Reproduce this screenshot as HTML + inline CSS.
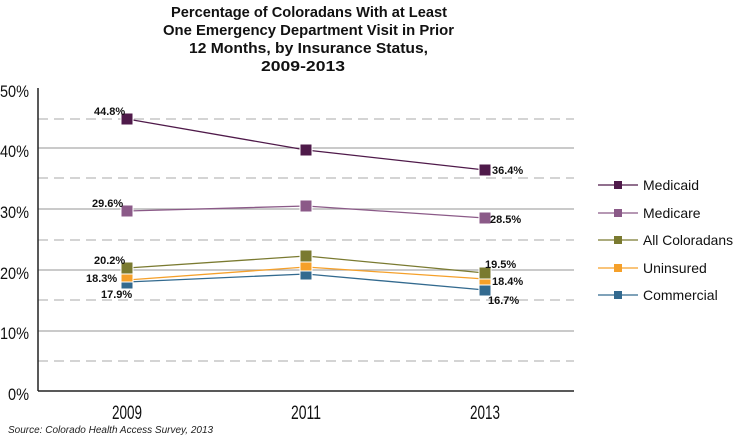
<!DOCTYPE html>
<html><head><meta charset="utf-8"><style>body{margin:0;background:#fff}svg{display:block}</style></head><body>
<svg width="734" height="438" xmlns="http://www.w3.org/2000/svg" font-family="Liberation Sans, sans-serif">
<g font-weight="bold" font-size="15" text-anchor="start" fill="#111">
<text x="171" y="17" textLength="276" lengthAdjust="spacingAndGlyphs">Percentage of Coloradans With at Least</text>
<text x="163" y="35" textLength="291" lengthAdjust="spacingAndGlyphs">One Emergency Department Visit in Prior</text>
<text x="189" y="53" textLength="239" lengthAdjust="spacingAndGlyphs">12 Months, by Insurance Status,</text>
<text x="261" y="71" textLength="84" lengthAdjust="spacingAndGlyphs">2009-2013</text>
</g>
<g stroke="#aaa" stroke-width="1.3">
<line x1="38" x2="574" y1="148" y2="148"/><line x1="38" x2="574" y1="209" y2="209"/><line x1="38" x2="574" y1="270" y2="270"/><line x1="38" x2="574" y1="331" y2="331"/>
</g>
<g stroke="#bbb" stroke-width="1.3" stroke-dasharray="10,6">
<line x1="38" x2="574" y1="119" y2="119"/><line x1="38" x2="574" y1="178" y2="178"/><line x1="38" x2="574" y1="240" y2="240"/><line x1="38" x2="574" y1="300" y2="300"/><line x1="38" x2="574" y1="361" y2="361"/>
</g>
<line x1="38" x2="38" y1="88" y2="391" stroke="#222" stroke-width="1.5"/>
<line x1="38" x2="574" y1="391" y2="391" stroke="#222" stroke-width="1.5"/>
<g font-size="17" fill="#111">
<text x="0" y="97" textLength="29" lengthAdjust="spacingAndGlyphs">50%</text><text x="0" y="157" textLength="29" lengthAdjust="spacingAndGlyphs">40%</text><text x="0" y="218" textLength="29" lengthAdjust="spacingAndGlyphs">30%</text><text x="0" y="279" textLength="29" lengthAdjust="spacingAndGlyphs">20%</text><text x="0" y="339" textLength="29" lengthAdjust="spacingAndGlyphs">10%</text><text x="8" y="400" textLength="21" lengthAdjust="spacingAndGlyphs">0%</text>
</g>
<g font-size="19" fill="#111">
<text x="112" y="419" textLength="30" lengthAdjust="spacingAndGlyphs">2009</text><text x="291" y="419" textLength="30" lengthAdjust="spacingAndGlyphs">2011</text><text x="470" y="419" textLength="30" lengthAdjust="spacingAndGlyphs">2013</text>
</g>
<text x="8" y="433" font-size="10" font-style="italic" fill="#222">Source: Colorado Health Access Survey, 2013</text>
<g stroke-width="1.3" fill="none">
<polyline points="127,119 306,150 485,170" stroke="#4f1a4a"/>
<polyline points="127,211 306,206 485,218" stroke="#8b5a88"/>
<polyline points="127,268 306,256 485,273" stroke="#7a7a30"/>
<polyline points="127,280 306,267 485,279" stroke="#f5a02a"/>
<polyline points="127,282 306,274 485,290" stroke="#336a8f"/>
</g>
<g stroke="#fff" stroke-width="1">
<g fill="#4f1a4a"><rect x="121" y="113" width="12" height="12"/><rect x="300" y="144" width="12" height="12"/><rect x="479" y="164" width="12" height="12"/></g>
<g fill="#8b5a88"><rect x="121" y="205" width="12" height="12"/><rect x="300" y="200" width="12" height="12"/><rect x="479" y="212" width="12" height="12"/></g>
<g fill="#336a8f"><rect x="121" y="277" width="12" height="12"/><rect x="300" y="268" width="12" height="12"/><rect x="479" y="284" width="12" height="12"/></g>
<g fill="#f5a02a"><rect x="121" y="272" width="12" height="10"/><rect x="300" y="261" width="12" height="10"/><rect x="479" y="273" width="12" height="12"/></g>
<g fill="#7a7a30"><rect x="121" y="262" width="12" height="12"/><rect x="300" y="250" width="12" height="12"/><rect x="479" y="267" width="12" height="12"/></g>
</g>
<g font-size="11" font-weight="bold" fill="#111">
<text x="94" y="115">44.8%</text><text x="92" y="207">29.6%</text><text x="94" y="264">20.2%</text><text x="86" y="282">18.3%</text><text x="101" y="298">17.9%</text>
<text x="492" y="174">36.4%</text><text x="490" y="223">28.5%</text><text x="485" y="268">19.5%</text><text x="492" y="285">18.4%</text><text x="488" y="304">16.7%</text>
</g>
<g stroke-width="1.3">
<line x1="598" x2="638" y1="185" y2="185" stroke="#4f1a4a"/><rect x="614" y="181" width="8" height="8" fill="#4f1a4a"/>
<line x1="598" x2="638" y1="213" y2="213" stroke="#8b5a88"/><rect x="614" y="209" width="8" height="8" fill="#8b5a88"/>
<line x1="598" x2="638" y1="240" y2="240" stroke="#7a7a30"/><rect x="614" y="236" width="8" height="8" fill="#7a7a30"/>
<line x1="598" x2="638" y1="268" y2="268" stroke="#f5a02a"/><rect x="614" y="264" width="8" height="8" fill="#f5a02a"/>
<line x1="598" x2="638" y1="295" y2="295" stroke="#336a8f"/><rect x="614" y="291" width="8" height="8" fill="#336a8f"/>
</g>
<g font-size="14" fill="#111">
<text x="643" y="190">Medicaid</text><text x="643" y="218">Medicare</text><text x="643" y="245" textLength="90" lengthAdjust="spacingAndGlyphs">All Coloradans</text><text x="643" y="273">Uninsured</text><text x="643" y="300">Commercial</text>
</g>
</svg>
</body></html>
